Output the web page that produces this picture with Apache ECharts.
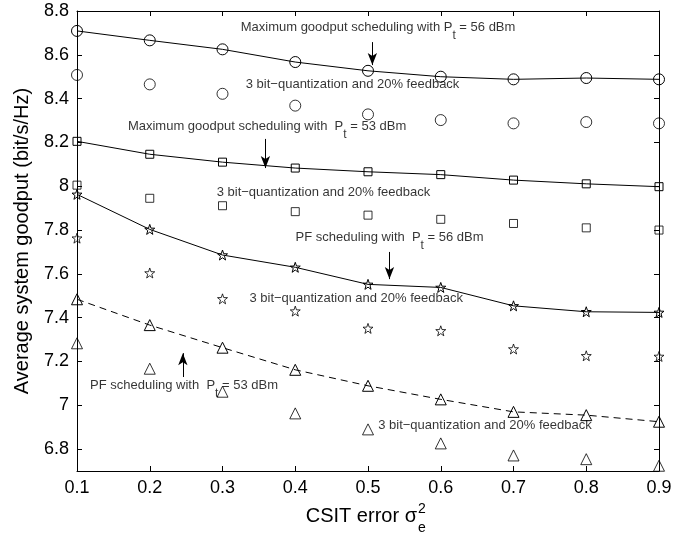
<!DOCTYPE html>
<html><head><meta charset="utf-8">
<script src="https://cdn.jsdelivr.net/npm/echarts@6/dist/echarts.min.js"></script>
<style>html,body{margin:0;padding:0;background:#fff}#c{width:692px;height:538px}</style>
</head><body><div id="c"></div>
<script>
const FONT = '"Liberation Sans", Arial, Helvetica, sans-serif';
const xValues = [0.1, 0.2, 0.3, 0.4, 0.5, 0.6, 0.7, 0.8, 0.9];
const yTicks = [6.8, 7.0, 7.2, 7.4, 7.6, 7.8, 8.0, 8.2, 8.4, 8.6, 8.8];
const maxGoodput56 = [8.709, 8.666, 8.625, 8.567, 8.527, 8.500, 8.488, 8.494, 8.488];
const maxGoodput56Quant = [8.508, 8.465, 8.422, 8.368, 8.328, 8.302, 8.287, 8.293, 8.287];
const maxGoodput53 = [8.205, 8.146, 8.110, 8.083, 8.066, 8.053, 8.028, 8.011, 7.998];
const maxGoodput53Quant = [8.005, 7.945, 7.911, 7.884, 7.868, 7.849, 7.830, 7.810, 7.800];
const pf56 = [7.963, 7.803, 7.686, 7.630, 7.552, 7.538, 7.454, 7.427, 7.424];
const pf56Quant = [7.763, 7.604, 7.486, 7.430, 7.351, 7.340, 7.257, 7.226, 7.223];
const pf53 = [7.484, 7.366, 7.263, 7.162, 7.089, 7.027, 6.970, 6.955, 6.925];
const pf53Quant = [7.283, 7.167, 7.062, 6.963, 6.890, 6.826, 6.771, 6.754, 6.724];

// annotations (text, in data coordinates: left edge x, centre y)
const annoTexts = [
  ['Maximum goodput scheduling with P', 't', ' = 56 dBm'],
  ['3 bit\u2212quantization and 20% feedback'],
  ['Maximum goodput scheduling with  P', 't', ' = 53 dBm'],
  ['3 bit\u2212quantization and 20% feedback'],
  ['PF scheduling with  P', 't', ' = 56 dBm'],
  ['3 bit\u2212quantization and 20% feedback'],
  ['PF scheduling with  P', 't', ' = 53 dBm'],
  ['3 bit\u2212quantization and 20% feedback']
];
const annoX = [0.325, 0.332, 0.170, 0.292, 0.4005, 0.337, 0.118, 0.514];
const annoY = [8.722, 8.467, 8.270, 7.974, 7.763, 7.489, 7.088, 6.910];
// arrows: x, from y, to y
const arrowX = [0.506, 0.359, 0.5295, 0.2455];
const arrowFromY = [8.658, 8.216, 7.700, 7.129];
const arrowToY = [8.553, 8.083, 7.576, 7.238];

const STAR = 'path://M50,0 L61.76,33.82 L97.55,34.55 L69.02,56.18 L79.39,90.45 L50,70 L20.61,90.45 L30.98,56.18 L2.45,34.55 L38.24,33.82 Z';

function pts(arr) { return xValues.map((x, i) => [x, arr[i]]); }
const hollow = { color: 'rgba(0,0,0,0)', borderColor: '#000', borderWidth: 1 };
function lineSeries(name, arr, symbol, size, dashed) {
  return { type: 'line', name, data: pts(arr), symbol, symbolSize: size, showAllSymbol: true,
    lineStyle: { color: '#000', width: 1, type: dashed ? [7, 5] : 'solid' },
    itemStyle: hollow, silent: true, z: 3 };
}
function dotSeries(name, arr, symbol, size) {
  return { type: 'scatter', name, data: pts(arr), symbol, symbolSize: size,
    itemStyle: hollow, silent: true, z: 3 };
}

const annoData = annoTexts.map((parts, i) => {
  let txt;
  if (parts.length === 3) txt = '{a|' + parts[0] + '}{s|' + parts[1] + '}{a|' + parts[2] + '}';
  else txt = '{b|' + parts[0] + '}';
  return { value: [annoX[i], annoY[i]], label: { formatter: () => txt, offset: parts.length === 3 ? [0, 3] : [0, 0] } };
});
const arrowData = arrowX.map((x, i) => [{ coord: [x, arrowFromY[i]] }, { coord: [x, arrowToY[i]] }]);

const axisCommon = {
  type: 'value', splitLine: { show: false },
  axisLine: { show: true, onZero: false, lineStyle: { color: '#000', width: 1 } },
};

const chart = echarts.init(document.getElementById('c'), null, { renderer: 'canvas' });
chart.setOption({
  animation: false,
  backgroundColor: '#fff',
  grid: { left: 77, right: 33, top: 11, bottom: 67, containLabel: false },
  xAxis: [
    Object.assign({}, axisCommon, { min: 0.1, max: 0.9, position: 'bottom',
      axisTick: { show: true, inside: true, length: 5, customValues: xValues, lineStyle: { color: '#000' } },
      axisLabel: { show: true, customValues: xValues, formatter: v => (+v).toFixed(1), fontSize: 18, color: '#000', fontFamily: FONT, margin: 8 } }),
    Object.assign({}, axisCommon, { min: 0.1, max: 0.9, position: 'top',
      axisTick: { show: true, inside: true, length: 5, customValues: xValues, lineStyle: { color: '#000' } },
      axisLabel: { show: false } })
  ],
  yAxis: [
    Object.assign({}, axisCommon, { min: 6.7, max: 8.8, position: 'left',
      name: 'Average system goodput (bit/s/Hz)', nameLocation: 'middle', nameGap: 45,
      nameTextStyle: { fontSize: 20, color: '#000', fontFamily: FONT },
      axisTick: { show: true, inside: true, length: 5, customValues: yTicks, lineStyle: { color: '#000' } },
      axisLabel: { show: true, customValues: yTicks, formatter: v => String(+(+v).toFixed(1)), fontSize: 18, color: '#000', fontFamily: FONT, margin: 8 } }),
    Object.assign({}, axisCommon, { min: 6.7, max: 8.8, position: 'right',
      axisTick: { show: true, inside: true, length: 5, customValues: yTicks, lineStyle: { color: '#000' } },
      axisLabel: { show: false } })
  ],
  series: [
    lineSeries('Max goodput 56 dBm', maxGoodput56, 'circle', 11, false),
    dotSeries('Max goodput 56 dBm quant', maxGoodput56Quant, 'circle', 11),
    lineSeries('Max goodput 53 dBm', maxGoodput53, 'rect', 8, false),
    dotSeries('Max goodput 53 dBm quant', maxGoodput53Quant, 'rect', 8),
    lineSeries('PF 56 dBm', pf56, STAR, 10, false),
    dotSeries('PF 56 dBm quant', pf56Quant, STAR, 10),
    lineSeries('PF 53 dBm', pf53, 'triangle', 11, true),
    dotSeries('PF 53 dBm quant', pf53Quant, 'triangle', 11),
    {
      type: 'scatter', name: 'annotations', data: annoData, symbol: 'circle', symbolSize: 0, silent: true, z: 5,
      label: {
        show: true, position: 'right', distance: 0, verticalAlign: 'middle', color: '#000',
        rich: {
          a: { fontSize: 13, fontFamily: FONT, color: '#000', lineHeight: 15, verticalAlign: 'top' },
          s: { fontSize: 12, fontFamily: FONT, color: '#000', lineHeight: 21, verticalAlign: 'bottom' },
          b: { fontSize: 13, fontFamily: FONT, color: '#000', lineHeight: 15 }
        }
      },
      markLine: {
        silent: true, symbol: ['none', 'arrow'], symbolSize: [7, 12], precision: 4,
        label: { show: false },
        lineStyle: { color: '#000', width: 1, type: 'solid' },
        data: arrowData
      }
    }
  ],
  graphic: [
    { type: 'text', silent: true, style: { text: 'CSIT error \u03c3', x: 417, y: 516, textAlign: 'right', textVerticalAlign: 'middle', fontSize: 20, fontFamily: FONT, fill: '#000' } },
    { type: 'text', silent: true, style: { text: '2', x: 418, y: 509, textAlign: 'left', textVerticalAlign: 'middle', fontSize: 14, fontFamily: FONT, fill: '#000' } },
    { type: 'text', silent: true, style: { text: 'e', x: 418, y: 528, textAlign: 'left', textVerticalAlign: 'middle', fontSize: 14, fontFamily: FONT, fill: '#000' } }
  ]
});
</script></body></html>
